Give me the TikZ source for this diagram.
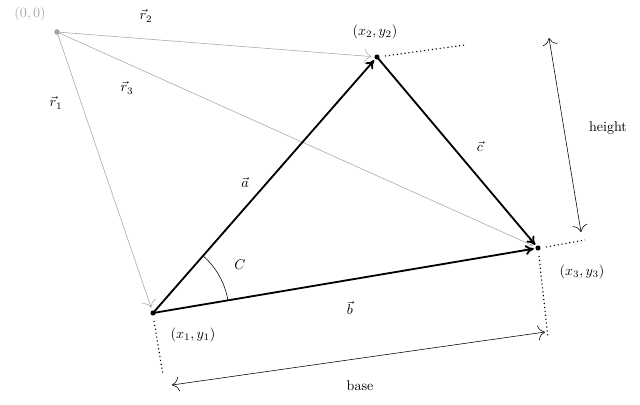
\documentclass[tikz,border=0pt]{standalone}
\usetikzlibrary{arrows.meta}
\begin{document}
\begin{tikzpicture}[x=0.025cm,y=-0.025cm,
  gr/.style={draw=gray!70,-{To[length=5pt]},shorten >=4pt},
  vec/.style={line width=1.3pt,-{To[length=6pt,width=7pt]},shorten >=3pt},
  dots/.style={dotted,thick},
  dim/.style={{To[length=5pt]}-{To[length=5pt]}}]
\useasboundingbox (0,0) rectangle (640,404);
\coordinate (O) at (57,32);
\coordinate (P1) at (153,313);
\coordinate (P2) at (377,57);
\coordinate (P3) at (538,248);
\fill[gray!70] (O) circle (2pt);
\foreach \p in {P1,P2,P3} \fill (\p) circle (1.8pt);
\draw[gr] (O) -- (P1);
\draw[gr] (O) -- (P2);
\draw[gr] (O) -- (P3);
\draw[vec] (P1) -- (P2);
\draw[vec] (P1) -- (P3);
\draw[vec] (P2) -- (P3);
\draw (P1) ++(-9.6:76) arc (-9.6:-48.8:76);
\coordinate (D2) at (465,45);
\coordinate (D3) at (585,240);
\coordinate (D1) at (163,375);
\coordinate (D4) at (548,338);
\draw[dots] (P2) ++(8,-1) -- (D2);
\draw[dots] (P3) ++(8,-1) -- (D3);
\draw[dots] (P1) ++(1,8) -- (D1);
\draw[dots] (P3) ++(1,8) -- (D4);
\coordinate (H1) at (549,38);
\coordinate (H2) at (581,232);
\coordinate (B1) at (172,385);
\coordinate (B2) at (545,332);
\draw[dim] (H1) -- (H2);
\draw[dim] (B1) -- (B2);
\node[gray!70] (lo) at (30,14) {$(0,0)$};
\node (l2) at (375,32) {$(x_2,y_2)$};
\node (l1) at (193,335) {$(x_1,y_1)$};
\node (l3) at (582,272) {$(x_3,y_3)$};
\node (r2) at (146,16) {$\vec r_2$};
\node (r3) at (127,88) {$\vec r_3$};
\node (r1) at (56,103) {$\vec r_1$};
\node (a) at (245,182) {$\vec a$};
\node (c) at (480,146) {$\vec c$};
\node (C) at (240,265) {$C$};
\node (b) at (350,308) {$\vec b$};
\node (h) at (608,128) {height};
\node (bs) at (360,386) {base};
\end{tikzpicture}
\end{document}
